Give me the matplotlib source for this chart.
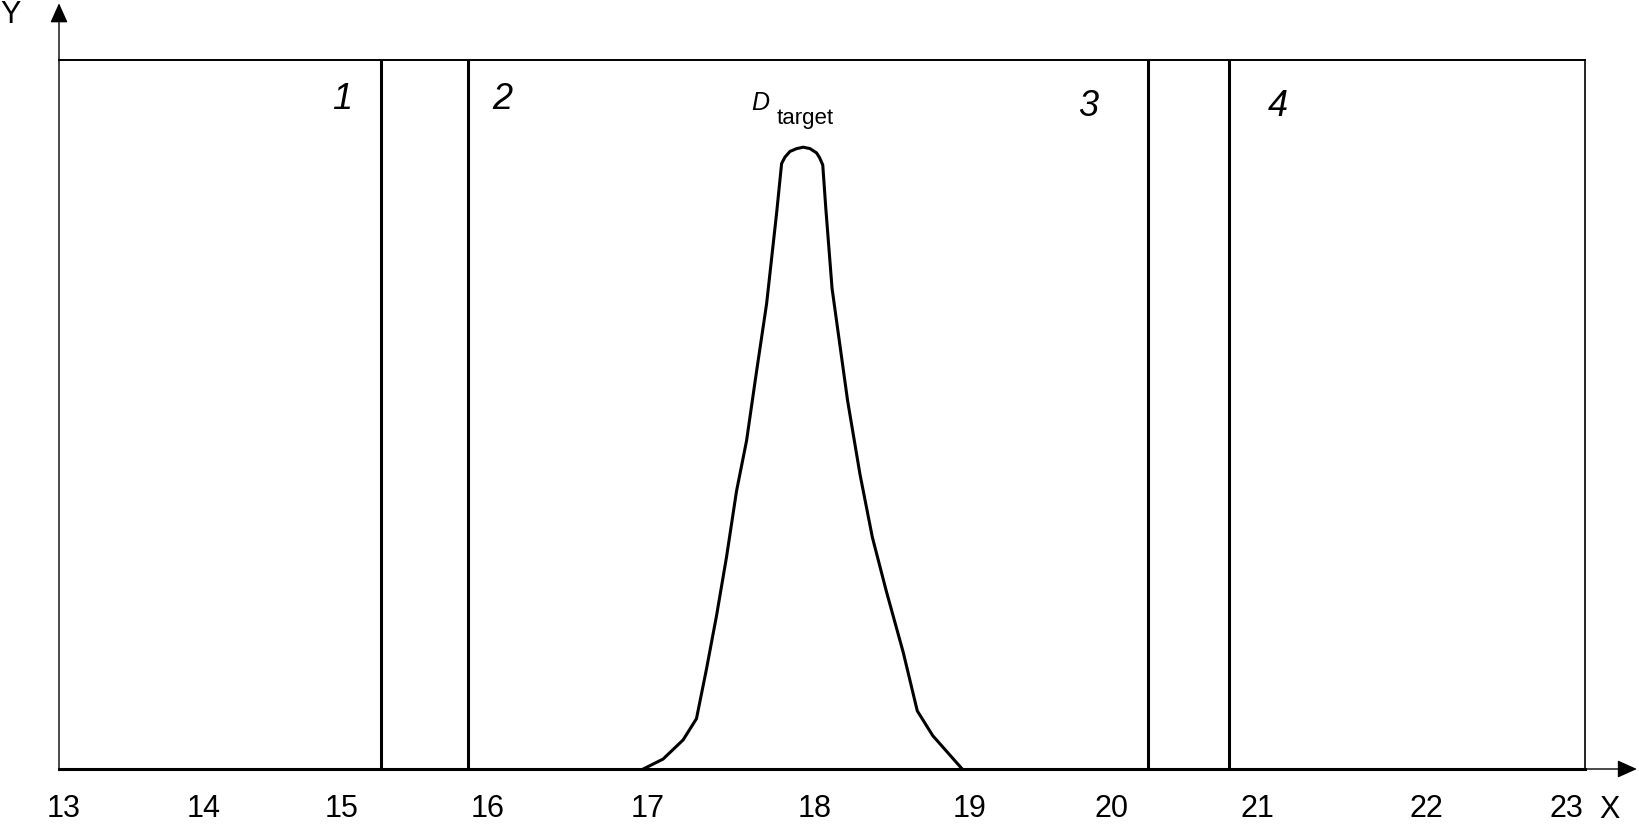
import numpy as np
import matplotlib.pyplot as plt

plt.rcParams['font.family'] = ['Liberation Sans', 'DejaVu Sans']

# x tick values and where their labels sit (pixels, the drawing is hand spaced)
ticks = np.arange(13, 24)
tick_px = np.array([63, 203, 341, 488, 648, 815, 970, 1112, 1258, 1427, 1567])

# positions of the vertical boundaries 1..4
bounds = [15.27, 15.86, 20.25, 20.80]
bound_labels = ['1', '2', '3', '4']
bound_label_x = [15.01, 16.09, 19.83, 21.12]
bound_label_y = [0.944, 0.944, 0.934, 0.934]

# D_target profile
peak_x = [16.97, 17.09, 17.21, 17.29, 17.35, 17.41, 17.47, 17.53, 17.59, 17.65,
          17.71, 17.77, 17.80, 17.82, 17.85, 17.89, 17.93, 17.97, 18.01, 18.03,
          18.05, 18.07, 18.11, 18.21, 18.29, 18.37, 18.46, 18.57, 18.66, 18.76,
          18.95]
peak_y = [0.0, 0.014, 0.041, 0.071, 0.141, 0.216, 0.299, 0.392, 0.463, 0.561,
          0.656, 0.784, 0.854, 0.863, 0.871, 0.875, 0.877, 0.875, 0.869, 0.862,
          0.852, 0.79, 0.678, 0.520, 0.416, 0.327, 0.251, 0.164, 0.082, 0.047,
          0.0]

knots_v = np.concatenate([[ticks[0] - 1], ticks, [ticks[-1] + 1]])
knots_p = np.concatenate([[tick_px[0] - 140], tick_px, [tick_px[-1] + 140]])


def fwd(v):
    return np.interp(v, knots_v, knots_p)


def inv(p):
    return np.interp(p, knots_p, knots_v)


fig = plt.figure(figsize=(16.39, 8.26), dpi=100)
ax = fig.add_axes([59 / 1639, 57 / 826, 1526 / 1639, 709 / 826])
ax.set_xscale('function', functions=(fwd, inv))
ax.set_xlim(12.97, 23.13)
ax.set_ylim(0, 1)

ax.axhline(0, color='black', lw=2.2, clip_on=False)
for b in bounds:
    ax.axvline(b, color='black', lw=2.2)
ax.plot(peak_x, peak_y, color='black', lw=2.2, clip_on=False,
        solid_joinstyle='round')

for lab, x, y in zip(bound_labels, bound_label_x, bound_label_y):
    ax.text(x, y, lab, fontsize=26, style='italic', ha='center', va='center')

ax.text(17.62, 0.9295, 'D', fontsize=18, style='italic', ha='left', va='baseline')
ax.text(17.77, 0.910, 'target', fontsize=16, ha='left', va='baseline')

ax.spines['left'].set_visible(False)
ax.spines['bottom'].set_visible(False)
ax.spines['top'].set_linewidth(1.4)
ax.spines['right'].set_linewidth(1.2)

ax.set_xticks(ticks, [str(t) for t in ticks])
ax.xaxis.set_minor_locator(plt.NullLocator())
ax.tick_params(axis='x', length=0, pad=18, labelsize=22)
ax.set_yticks([])

arrow = dict(arrowstyle='-|>,head_length=0.6,head_width=0.27', color='black',
             lw=1, shrinkA=0, shrinkB=0, mutation_scale=20)
ax.annotate('', xy=(0, 1.08), xytext=(0, 0), xycoords='axes fraction',
            textcoords='axes fraction', arrowprops=arrow)
ax.annotate('', xy=(1.034, 0), xytext=(0, 0), xycoords='axes fraction',
            textcoords='axes fraction', arrowprops=arrow)

fig.text(11 / 1639, 1 - 15 / 826, 'Y', fontsize=22, ha='center', va='center')
fig.text(1610 / 1639, 1 - 810 / 826, 'X', fontsize=22, ha='center', va='center')

plt.savefig('out.png', dpi=100)
